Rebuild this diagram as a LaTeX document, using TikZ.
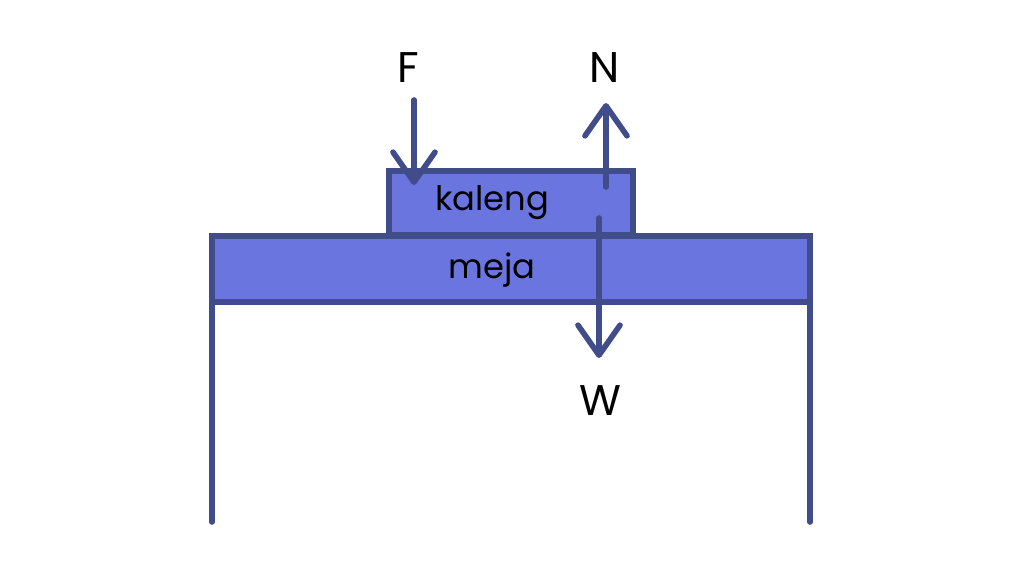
\documentclass[tikz,border=0pt]{standalone}
\usepackage{fontspec}
\setmainfont{Poppins}
\usetikzlibrary{calc}
\usetikzlibrary{arrows.meta}
\definecolor{garis}{HTML}{414C8A}
\definecolor{isi}{HTML}{6B75E0}
\begin{document}
\begin{tikzpicture}[x=0.01cm,y=-0.01cm,
    kotak/.style={draw=garis,fill=isi,line width=1.6pt,inner sep=0pt,outer sep=0pt},
    gaya/.style={draw=garis,line width=1.6pt,line cap=round,
        -{Straight Barb[length=0.3cm,width=0.42cm,round]}},
    tulisan/.style={inner sep=0pt,font=\fontsize{9.6}{11}\selectfont},
    huruf/.style={inner sep=0pt,font=\fontsize{12.2}{14}\selectfont}]
    \useasboundingbox (0,0) rectangle (1024,576);

    % meja dan kaleng
    \node[kotak,minimum width=5.98cm,minimum height=0.66cm] (meja) at (511,269) {};
    \node[kotak,minimum width=2.44cm,minimum height=0.64cm] (kaleng) at (511,203) {};
    \node[tulisan] (tmeja) at (492,270) {meja};
    \node[tulisan] (tkaleng) at (492,203) {kaleng};

    % kaki meja
    \draw[garis,line width=1.6pt,line cap=round] (meja.south west)--++(0,220);
    \draw[garis,line width=1.6pt,line cap=round] (meja.south east)--++(0,220);

    % gaya-gaya
    \coordinate (f1) at (414,100);
    \coordinate (f2) at (414,185);
    \coordinate (n1) at (606,187);
    \coordinate (n2) at (606,103);
    \coordinate (w1) at (599,218);
    \coordinate (w2) at (599,358);

    \draw[gaya](f1)--(f2);
    \draw[gaya](n1)--(n2);
    \draw[gaya](w1)--(w2);

    \node[huruf] (F) at (408,68) {F};
    \node[huruf] (N) at (605,68) {N};
    \node[huruf] (W) at (600,401) {W};
\end{tikzpicture}
\end{document}
